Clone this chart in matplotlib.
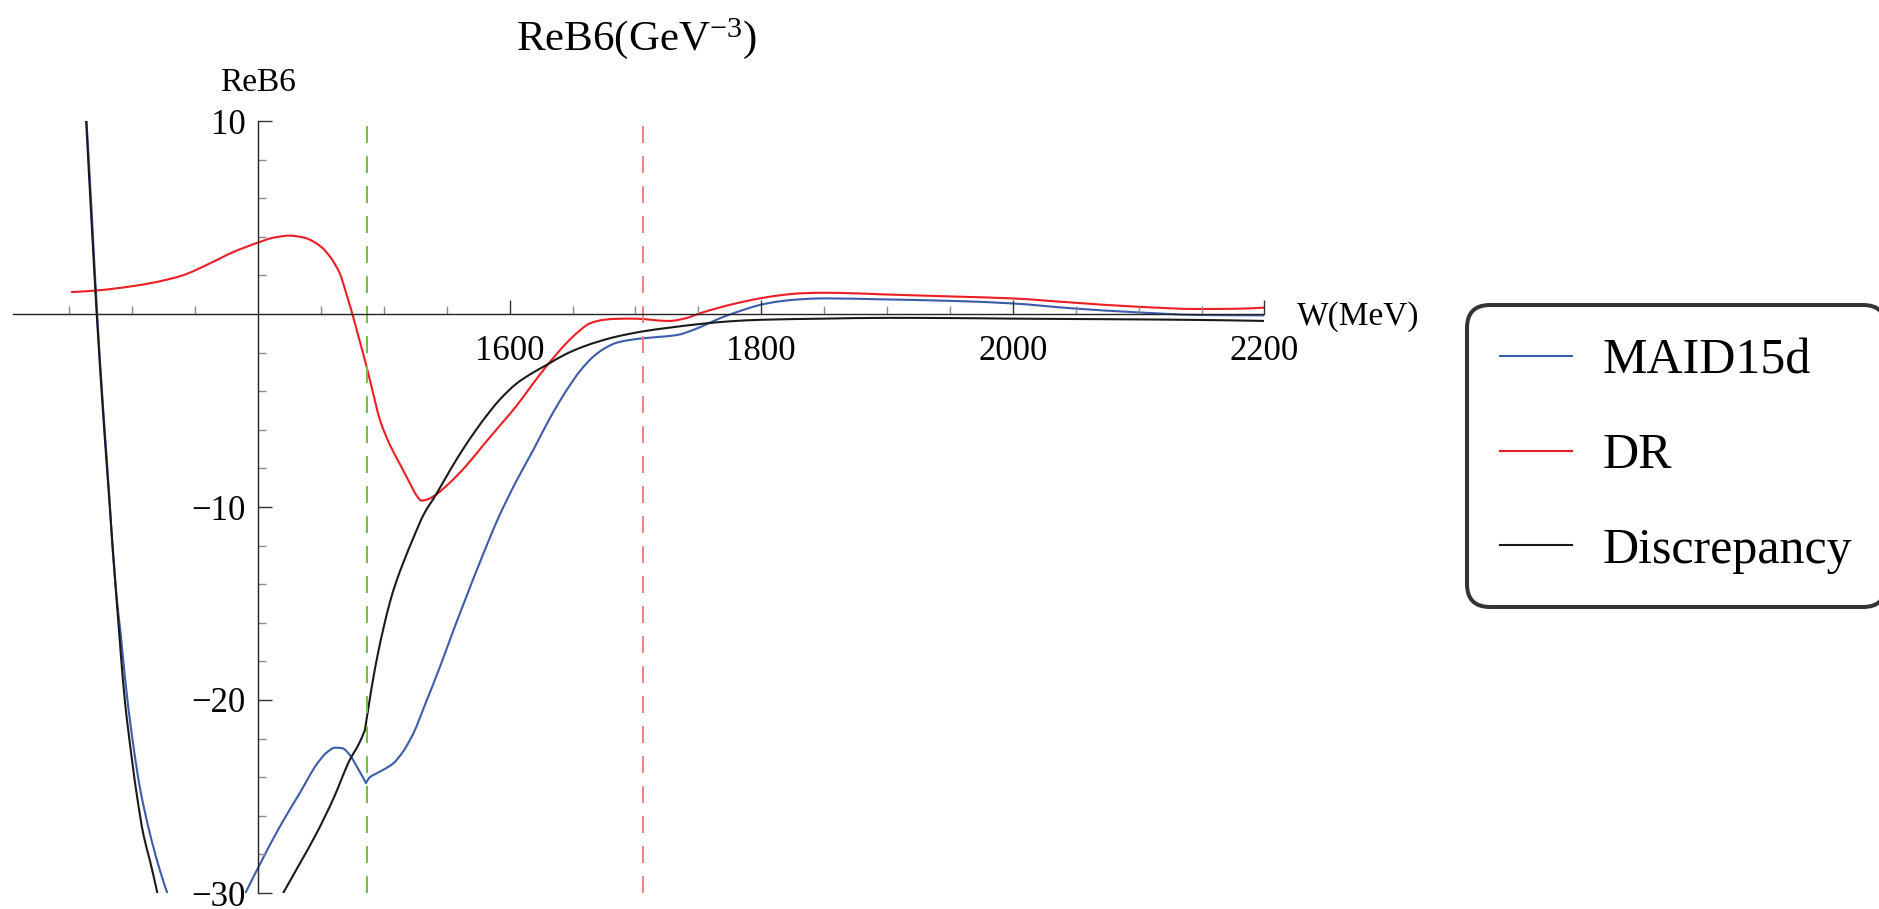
import numpy as np
import matplotlib
matplotlib.use("Agg")
import matplotlib.pyplot as plt
from matplotlib.ticker import FixedLocator
from matplotlib.path import Path
from matplotlib.patches import PathPatch
from matplotlib.lines import Line2D

plt.rcParams["font.family"] = ["Liberation Serif", "DejaVu Serif"]
plt.rcParams["mathtext.fontset"] = "custom"
plt.rcParams["mathtext.rm"] = "Liberation Serif"
plt.rcParams["mathtext.it"] = "Liberation Serif:italic"
plt.rcParams["mathtext.bf"] = "Liberation Serif:bold"
plt.rcParams["axes.unicode_minus"] = True

# ---- DR dispersion result ----
w_dr = [1252, 1270, 1290, 1314, 1340, 1362, 1380, 1400, 1412, 1425, 1437, 1450,
        1458, 1465, 1470, 1475, 1480, 1485, 1490, 1497, 1505, 1513, 1521, 1526,
        1530, 1535, 1541, 1552, 1565, 1579, 1592, 1605, 1617, 1629, 1645, 1655,
        1664, 1675, 1685, 1695, 1706, 1717, 1727, 1740, 1751, 1765, 1778, 1799,
        1815, 1831, 1850, 1870, 1895, 1956, 1999, 2048, 2098, 2147, 2175, 2200]
reb6_dr = [1.14, 1.21, 1.35, 1.59, 2.0, 2.63, 3.2, 3.7, 3.95, 4.06, 3.95, 3.49,
           2.9, 2.1, 1.1, 0.0, -1.2, -2.4, -3.7, -5.5, -6.8, -7.8, -8.8, -9.4,
           -9.67, -9.6, -9.38, -8.77, -7.9, -6.8, -5.8, -4.8, -3.75, -2.73, -1.52, -0.9,
           -0.48, -0.3, -0.25, -0.24, -0.26, -0.33, -0.36, -0.22, 0.03, 0.3, 0.52, 0.81,
           0.97, 1.07, 1.1, 1.08, 1.02, 0.9, 0.81, 0.59, 0.38, 0.26, 0.27, 0.33]

# ---- MAID15d (low-energy branch and main branch) ----
w_maid_low = [1263.7, 1268, 1272.1, 1277, 1282, 1283.6, 1287.8, 1290.7, 1294.5,
              1299.5, 1306, 1314, 1321, 1327.9]
reb6_maid_low = [10, 5, 0, -5, -9.64, -11.4, -14.8, -16.5, -19,
                 -21.7, -24.5, -26.9, -28.6, -30]
w_maid = [1390, 1401.6, 1417, 1433.4, 1447, 1455, 1461.2, 1467, 1473, 1479, 1485.8,
          1489, 1494.3, 1500, 1507.6, 1515, 1523.5, 1533, 1544.7, 1555.3, 1564.6,
          1578, 1591.5, 1605, 1618.8, 1632, 1645.4, 1656, 1666.5, 1675, 1685, 1695,
          1706, 1720, 1733, 1745, 1757, 1768, 1778, 1790, 1799, 1815, 1831, 1850,
          1895, 1956, 1999, 2048, 2098, 2147, 2200]
reb6_maid = [-30, -28.5, -26.6, -24.8, -23.3, -22.7, -22.47, -22.5, -22.85, -23.5, -24.3,
             -24.0, -23.8, -23.6, -23.28, -22.7, -21.73, -20.2, -18.27, -16.4, -14.82,
             -12.6, -10.5, -8.7, -7.05, -5.4, -3.94, -2.95, -2.21, -1.8, -1.49, -1.35,
             -1.26, -1.18, -1.09, -0.85, -0.52, -0.2, 0.04, 0.3, 0.47, 0.66, 0.76, 0.81,
             0.76, 0.67, 0.55, 0.29, 0.09, -0.05, -0.07]
maid_cusp_w = 1485.8

# ---- Discrepancy (low-energy branch and main branch) ----
w_disc_low = [1263.4, 1267.5, 1271.8, 1276.7, 1281.8, 1287.6, 1294.1, 1297.1,
              1303.4, 1309, 1314, 1320]
reb6_disc_low = [10, 5, 0, -5, -9.64, -14.8, -20, -21.7,
                 -24.8, -27.0, -28.3, -30]
w_disc = [1420, 1433, 1446.6, 1460, 1473, 1480, 1485, 1488, 1491, 1495, 1500,
          1505, 1510, 1516, 1523.5, 1532, 1541.3, 1552.6, 1565, 1579, 1592, 1605.6,
          1617, 1629.4, 1644, 1658.6, 1672, 1685.1, 1706, 1728, 1751, 1775, 1800,
          1850, 1900, 1950, 2000, 2100, 2150, 2200]
reb6_disc = [-30, -28.5, -26.9, -25.1, -23.1, -22.3, -21.55, -20.3, -19.1, -17.7, -16.2,
             -14.9, -13.85, -12.8, -11.6, -10.35, -9.38, -8.1, -6.8, -5.5, -4.45, -3.6,
             -3.1, -2.64, -2.1, -1.69, -1.4, -1.17, -0.9, -0.7, -0.52, -0.38, -0.3,
             -0.24, -0.2, -0.21, -0.24, -0.28, -0.31, -0.36]
disc_kink_w = 1485

# ---- thresholds (MeV) ----
threshold_w = [1487, 1706]
threshold_colors = ["#6dbf48", "#f27e7e"]

# ---- axis ticks ----
x_major = [1600, 1800, 2000, 2200]
x_minor = [1250, 1300, 1350, 1450, 1500, 1550, 1650, 1700, 1750, 1850, 1900,
           1950, 2050, 2100, 2150]
y_major = [-30, -20, -10, 10]
y_minor = [-28, -26, -24, -22, -18, -16, -14, -12, -8, -6, -4, -2, 2, 4, 6, 8]


def hermite_slopes(x, y):
    """Shape-preserving (Fritsch-Carlson) tangents at each sample."""
    x = np.asarray(x, float)
    y = np.asarray(y, float)
    h = np.diff(x)
    d = np.diff(y) / h
    n = len(x)
    m = np.zeros(n)
    if n == 2:
        m[:] = d[0]
        return m
    for k in range(1, n - 1):
        if d[k - 1] * d[k] > 0:
            w1 = 2 * h[k] + h[k - 1]
            w2 = h[k] + 2 * h[k - 1]
            m[k] = (w1 + w2) / (w1 / d[k - 1] + w2 / d[k])

    def end(h0, h1, d0, d1):
        s = ((2 * h0 + h1) * d0 - h0 * d1) / (h0 + h1)
        if np.sign(s) != np.sign(d0):
            return 0.0
        if np.sign(d0) != np.sign(d1) and abs(s) > abs(3 * d0):
            return 3 * d0
        return s

    m[0] = end(h[0], h[1], d[0], d[1])
    m[-1] = end(h[-1], h[-2], d[-1], d[-2])
    return m


def smooth_path(x, y):
    """Cubic Bezier path through the samples (x must increase)."""
    x = np.asarray(x, float)
    y = np.asarray(y, float)
    m = hermite_slopes(x, y)
    verts = [(x[0], y[0])]
    codes = [Path.MOVETO]
    for i in range(len(x) - 1):
        hh = x[i + 1] - x[i]
        verts += [(x[i] + hh / 3, y[i] + m[i] * hh / 3),
                  (x[i + 1] - hh / 3, y[i + 1] - m[i + 1] * hh / 3),
                  (x[i + 1], y[i + 1])]
        codes += [Path.CURVE4] * 3
    return Path(verts, codes)


def draw_curve(ax, x, y, color, lw, breaks=()):
    x = list(x)
    y = list(y)
    cuts = [0] + [x.index(b) for b in breaks] + [len(x) - 1]
    for a, b in zip(cuts[:-1], cuts[1:]):
        patch = PathPatch(smooth_path(x[a:b + 1], y[a:b + 1]), fill=False,
                          edgecolor=color, lw=lw, capstyle="round",
                          joinstyle="round", transform=ax.transData)
        ax.add_patch(patch)


W_PX, H_PX = 1879, 909
fig = plt.figure(figsize=(W_PX / 100, H_PX / 100), dpi=100)
ax = fig.add_axes([12.7 / W_PX, 16 / H_PX, 1251.7 / W_PX, 772 / H_PX])
ax.set_xlim(1205, 2200)
ax.set_ylim(-30, 10)

c_maid = "#3a5caa"
c_dr = "#ee1d23"
c_disc = "#1a1a1a"
lw = 1.5

draw_curve(ax, w_maid_low, reb6_maid_low, c_maid, lw)
draw_curve(ax, w_maid, reb6_maid, c_maid, lw, breaks=[maid_cusp_w])
draw_curve(ax, w_dr, reb6_dr, c_dr, lw)
draw_curve(ax, w_disc_low, reb6_disc_low, c_disc, lw)
draw_curve(ax, w_disc, reb6_disc, c_disc, lw, breaks=[disc_kink_w])

dash_lw = 1.4
for wt, ct in zip(threshold_w, threshold_colors):
    ln = ax.axvline(wt, ymin=0, ymax=(9.8 + 30) / 40, color=ct, lw=dash_lw)
    ln.set_dashes((12.2 / dash_lw, 9.4 / dash_lw))

# Axes crossing at (1400, 0)
for s in ("top", "right"):
    ax.spines[s].set_visible(False)
ax.spines["left"].set_position(("data", 1400))
ax.spines["bottom"].set_position(("data", 0))
for s in ("left", "bottom"):
    ax.spines[s].set_color("#222222")
    ax.spines[s].set_linewidth(1.0)

ax.xaxis.set_major_locator(FixedLocator(x_major))
ax.xaxis.set_minor_locator(FixedLocator(x_minor))
ax.yaxis.set_major_locator(FixedLocator(y_major))
ax.yaxis.set_minor_locator(FixedLocator(y_minor))
ax.tick_params(which="major", direction="in", length=10.4, width=1.0,
               color="#333333", labelsize=25)
ax.tick_params(which="minor", direction="in", length=6.1, width=1.0, color="#8a8a8a")
ax.tick_params(axis="x", which="major", pad=15)
ax.tick_params(axis="y", which="major", pad=9)

ax.text(1400, 11.57, "ReB6", ha="center", va="baseline", fontsize=24, clip_on=False)
ax.text(2226, -0.57, "W(MeV)", ha="left", va="baseline", fontsize=24, clip_on=False)
fig.text(637 / W_PX, 1 - 50 / H_PX, r"ReB6(GeV$^{-3}$)", ha="center",
         va="baseline", fontsize=31)

handles = [Line2D([], [], color=c_maid, lw=1.5),
           Line2D([], [], color=c_dr, lw=1.5),
           Line2D([], [], color=c_disc, lw=1.5)]
labels = ["MAID15d", "DR", "Discrepancy"]
leg = fig.legend(handles, labels, loc="upper left",
                 bbox_to_anchor=(1467 / W_PX, 1 - 305 / H_PX),
                 borderaxespad=0, fontsize=36, handlelength=1.44,
                 handletextpad=0.62, labelspacing=0.96, borderpad=0.66,
                 frameon=True, fancybox=True)
frame = leg.get_frame()
frame.set_edgecolor("black")
frame.set_linewidth(2.9)
frame.set_boxstyle("round", pad=0, rounding_size=0.46)

fig.savefig("out.png", dpi=100)
